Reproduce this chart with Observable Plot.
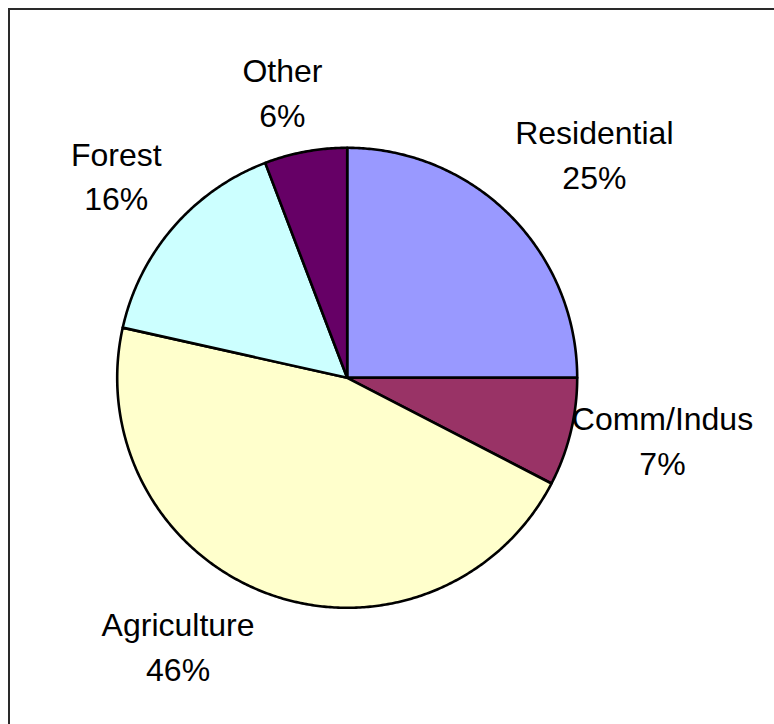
<!DOCTYPE html>
<html>
<head>
<meta charset="utf-8">
<script src="https://cdn.jsdelivr.net/npm/d3@7"></script>
<script src="https://cdn.jsdelivr.net/npm/@observablehq/plot@0.6"></script>
<style>
  html, body { margin: 0; padding: 0; background: #fff; width: 774px; height: 724px; overflow: hidden; }
  #frame { position: absolute; left: 8px; top: 8px; width: 900px; height: 900px;
           border-top: 2px solid #2a2a2a; border-left: 2px solid #2a2a2a; box-sizing: border-box; }
  #chart { position: absolute; left: 0; top: 0; }
</style>
</head>
<body>
<div id="frame"></div>
<div id="chart"></div>
<script>
// ---- data ----
const categories = ["Residential", "Comm/Indus", "Agriculture", "Forest", "Other"];
const shares = [25.0, 7.6, 45.9, 15.7, 5.8];
const pctLabels = ["25%", "7%", "46%", "16%", "6%"];
const colors = ["#9999FF", "#993366", "#FFFFCC", "#CCFFFF", "#660066"];

// ---- layout (label placement, in pie radii) ----
const labelRadius = 1.35;
const labelNudge = [[0.12, -0.027], [0.059, -0.058], [-0.274, -0.109], [0.017, -0.004], [-0.037, 0.077]];

// ---- build slices (unit circle, clockwise from 12 o'clock, y down) ----
const total = d3.sum(shares);
let cum = 0;
const slices = categories.map((name, i) => {
  const a0 = cum / total * 2 * Math.PI;
  cum += shares[i];
  const a1 = cum / total * 2 * Math.PI;
  const n = Math.max(2, Math.ceil((a1 - a0) / (Math.PI / 360)));
  const ring = [[0, 0]];
  for (let k = 0; k <= n; k++) {
    const a = a0 + (a1 - a0) * k / n;
    ring.push([Math.sin(a), -Math.cos(a)]);
  }
  ring.push([0, 0]);
  const mid = (a0 + a1) / 2;
  return {
    type: "Feature",
    properties: {
      name,
      label: name + "\n" + pctLabels[i],
      lx: labelRadius * Math.sin(mid) + labelNudge[i][0],
      ly: -labelRadius * Math.cos(mid) + labelNudge[i][1]
    },
    geometry: {type: "Polygon", coordinates: [ring]}
  };
});

const circleRing = d3.range(0, 361, 1).map(a => [Math.sin(a * Math.PI / 180), -Math.cos(a * Math.PI / 180)]);
const circleDomain = {type: "Polygon", coordinates: [circleRing]};

const chart = Plot.plot({
  width: 774,
  height: 724,
  margin: 0,
  projection: {
    type: "identity",
    domain: circleDomain,
    clip: false,
    insetLeft: 116.7,
    insetRight: 197.3,
    insetTop: 147.3,
    insetBottom: 116.7
  },
  color: {domain: categories, range: colors},
  style: {fontFamily: "'Liberation Sans', Arial, sans-serif", background: "transparent", overflow: "visible"},
  marks: [
    Plot.geo(slices, {fill: d => d.properties.name, stroke: "black", strokeWidth: 2.6, strokeLinejoin: "round"}),
    Plot.text(slices, {
      x: d => d.properties.lx,
      y: d => d.properties.ly,
      text: d => d.properties.label,
      fontSize: 32,
      lineHeight: 1.4,
      lineAnchor: "middle",
      textAnchor: "middle",
      fill: "black"
    })
  ]
});
document.getElementById("chart").appendChild(chart);
</script>
</body>
</html>
